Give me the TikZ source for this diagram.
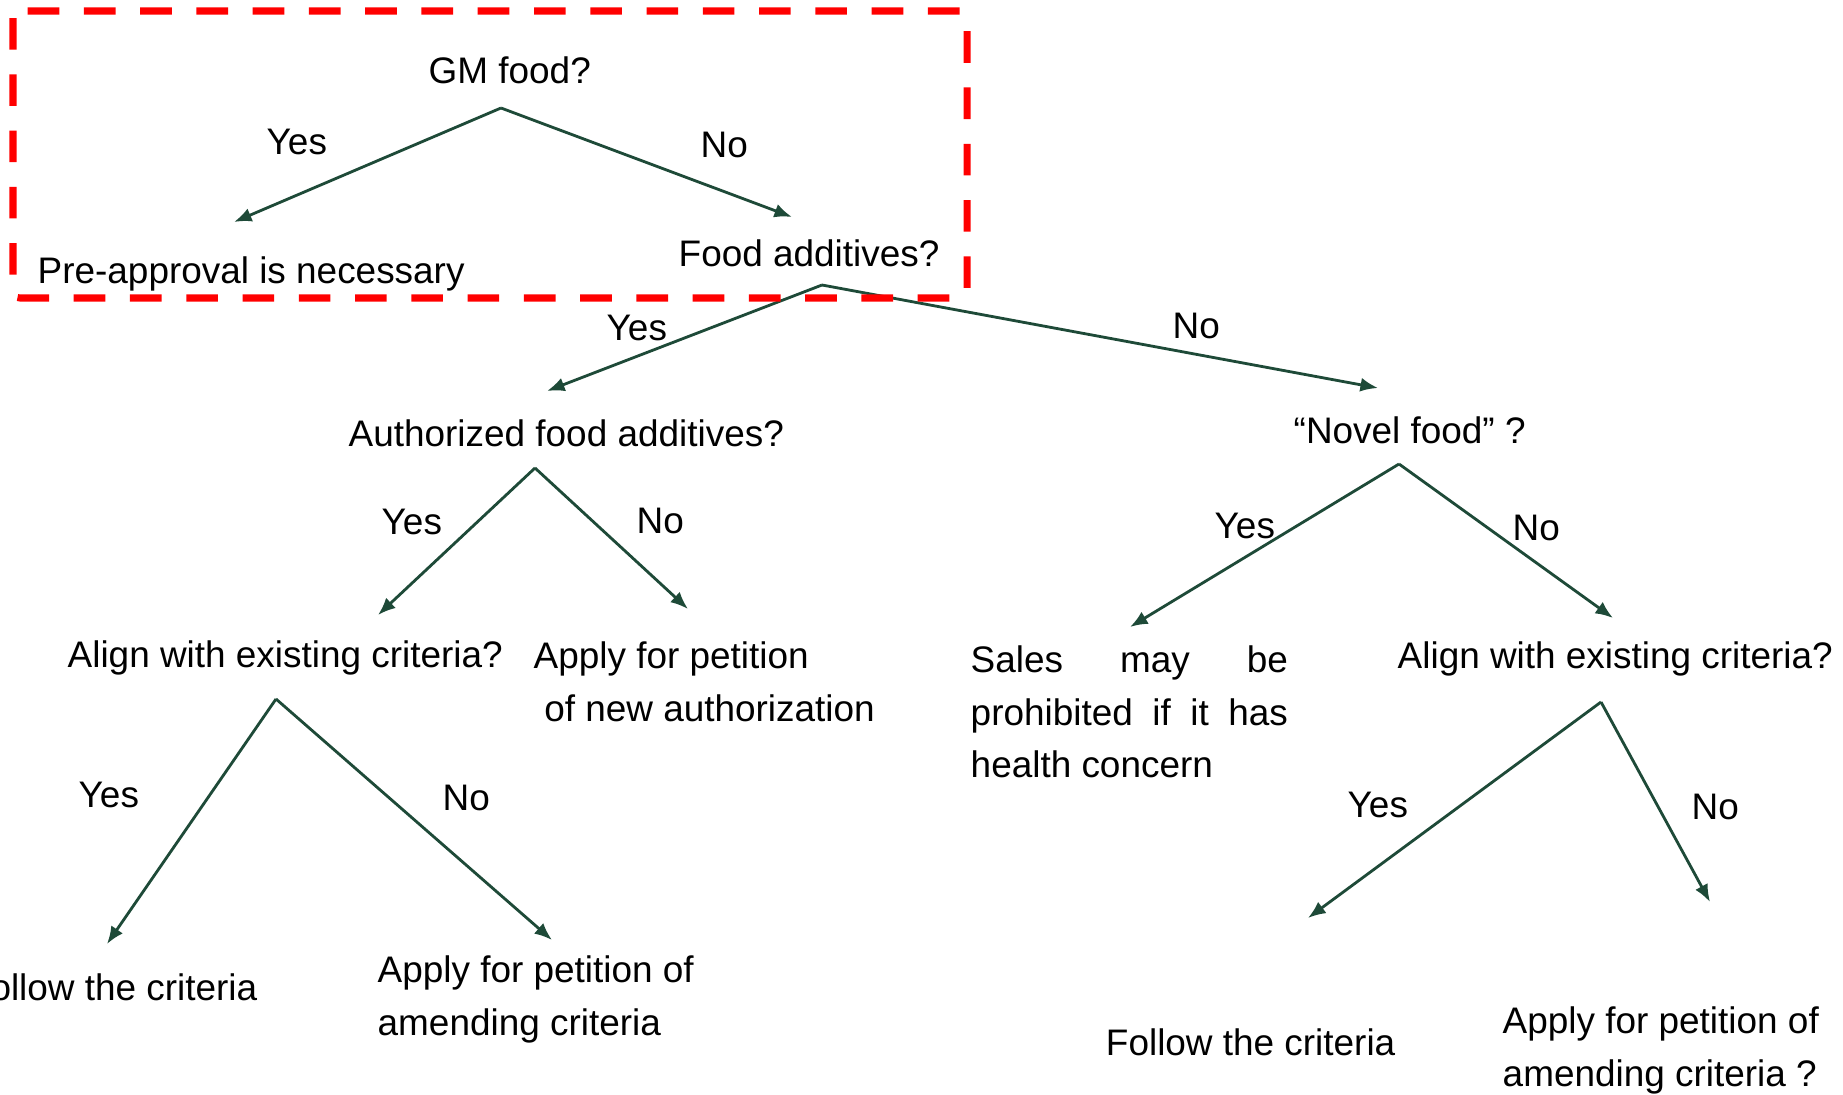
\documentclass[tikz,border=0pt]{standalone}
\usepackage{fontspec}
\setmainfont{Liberation Sans}
\usetikzlibrary{arrows.meta,positioning}
\definecolor{treegreen}{HTML}{1E4A38}
\definecolor{hired}{HTML}{FF0000}

\begin{document}
\begin{tikzpicture}[x=0.01cm, y=-0.01cm,
  txt/.style={inner sep=0pt, font=\fontsize{10.5pt}{15pt}\selectfont, anchor=base west},
  multi/.style={inner sep=0pt, font=\fontsize{10.5pt}{15pt}\selectfont, anchor=north west, align=left},
  lbl/.style={inner sep=0pt, font=\fontsize{10.5pt}{15pt}\selectfont, anchor=base west},
  arr/.style={-{Latex[length=5pt,width=4pt]}, line width=0.8pt, color=treegreen},
  hilite/.style={draw=hired, line width=2pt, dash pattern=on 9pt off 7pt, rounded corners=2pt}
]
\useasboundingbox (0,0) rectangle (1843,1094);
\clip (0,0) rectangle (1843,1094);
% questions and outcomes
\node[txt] (gm) at (428,84) {GM food?};
\node[txt] (pre) at (37,283) {Pre-approval is necessary};
\node[txt] (fa) at (678,266) {Food additives?};
\node[txt] (auth) at (348,446) {Authorized food additives?};
\node[txt] (novel) at (1293,443) {“Novel food” ?};
\node[txt] (alignl) at (67,667) {Align with existing criteria?};
\node[multi] (newauth) at (533,641) {Apply for petition\\\hspace*{3pt}of new authorization};
\node[multi, text width=3.17cm, align=justify] (sales) at (970,645) {Sales may be\linebreak prohibited if it has\linebreak health concern};
\node[txt] (alignr) at (1397,668) {Align with existing criteria?};
\node[txt, anchor=base east] (followl) at (258,1000) {Follow the criteria};
\node[multi] (amendl) at (377,955) {Apply for petition of\\amending criteria};
\node[txt, anchor=base east] (followr) at (1396,1055) {Follow the criteria};
\node[multi] (amendr) at (1502,1006) {Apply for petition of\\amending criteria ?};
% branch points
\coordinate (gm-top) at (501,108);
\coordinate (fa-top) at (822,285);
\coordinate (auth-top) at (535,468);
\coordinate (alignl-top) at (276,699);
\coordinate (novel-top) at (1399,464);
\coordinate (alignr-top) at (1601,702);
% arrow ends
\coordinate (pre-in) at (234,222);
\coordinate (fa-in) at (792,217);
\coordinate (auth-in) at (547,391);
\coordinate (novel-in) at (1378,388);
\coordinate (alignl-in) at (378,615);
\coordinate (newauth-in) at (688,609);
\coordinate (followl-in) at (107,944);
\coordinate (amendl-in) at (552,940);
\coordinate (sales-in) at (1130,627);
\coordinate (alignr-in) at (1613,618);
\coordinate (followr-in) at (1308,918);
\coordinate (amendr-in) at (1710,902);
\draw[arr] (gm-top) -- (pre-in); \draw[arr] (gm-top) -- (fa-in);
\draw[arr] (fa-top) -- (auth-in); \draw[arr] (fa-top) -- (novel-in);
\draw[arr] (auth-top) -- (alignl-in); \draw[arr] (auth-top) -- (newauth-in);
\draw[arr] (alignl-top) -- (followl-in); \draw[arr] (alignl-top) -- (amendl-in);
\draw[arr] (novel-top) -- (sales-in); \draw[arr] (novel-top) -- (alignr-in);
\draw[arr] (alignr-top) -- (followr-in); \draw[arr] (alignr-top) -- (amendr-in);
% yes / no labels
\node[lbl] (y1) at (266,155) {Yes}; \node[lbl] (n1) at (700,157) {No};
\node[lbl] (y2) at (606,340) {Yes}; \node[lbl] (n2) at (1172,338) {No};
\node[lbl] (y3) at (381,534) {Yes}; \node[lbl] (n3) at (636,533) {No};
\node[lbl] (y4) at (1214,538) {Yes}; \node[lbl] (n4) at (1512,540) {No};
\node[lbl] (y5) at (78,807) {Yes}; \node[lbl] (n5) at (442,810) {No};
\node[lbl] (y6) at (1347,817) {Yes}; \node[lbl] (n6) at (1691,819) {No};
% highlighted part
\draw[hilite] (13,11) rectangle (967,298);
\end{tikzpicture}
\end{document}
